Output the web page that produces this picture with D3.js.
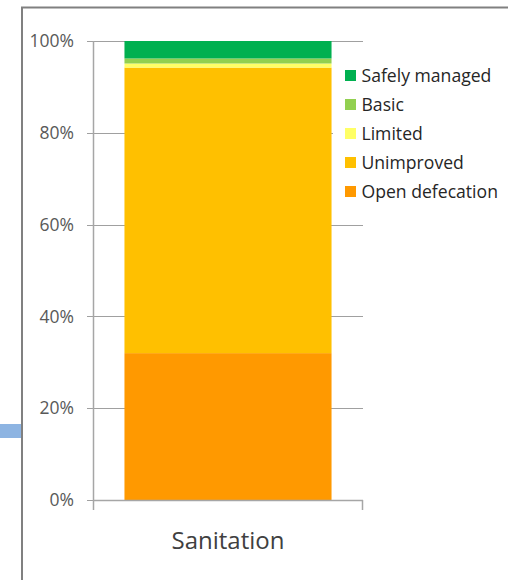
<!DOCTYPE html>
<html>
<head>
<meta charset="utf-8">
<script src="https://cdn.jsdelivr.net/npm/d3@7"></script>
<style>
  html, body { margin: 0; padding: 0; background: #fff; }
  svg { display: block; }
  text { font-family: "Open Sans", "Liberation Sans", sans-serif; }
</style>
</head>
<body>
<script>
// Sanitation service ladder, share of population (%)
const categories = ["Sanitation"];
const seriesNames = ["Open defecation", "Unimproved", "Limited", "Basic", "Safely managed"];
const seriesValues = [32.0, 62.2, 0.9, 1.1, 3.8];
const seriesColors = ["#FF9900", "#FFC000", "#FFFF66", "#92D050", "#00B050"];
const yTicks = [0, 20, 40, 60, 80, 100];

const W = 508, H = 580;
const svg = d3.select("body").append("svg").attr("width", W).attr("height", H);

// outer frame (left and top edges visible)
svg.append("rect").attr("x", 0).attr("y", 424).attr("width", 21).attr("height", 14).attr("fill", "#8DB4E2");
svg.append("line").attr("x1", 22).attr("x2", 22).attr("y1", 7).attr("y2", H)
  .attr("stroke", "#808080").attr("stroke-width", 2);
svg.append("line").attr("x1", 21).attr("x2", W).attr("y1", 7.5).attr("y2", 7.5)
  .attr("stroke", "#808080").attr("stroke-width", 2);

const plot = { left: 93, right: 363, top: 41, bottom: 500 };

const x = d3.scaleBand().domain(categories).range([plot.left, plot.right]).paddingInner(0.23).paddingOuter(0.117);
const y = d3.scaleLinear().domain([0, 100]).range([plot.bottom, plot.top]);

// gridlines with small outward ticks
const grid = svg.append("g");
grid.selectAll("line").data(yTicks).join("line")
  .attr("x1", plot.left - 6).attr("x2", plot.right)
  .attr("y1", d => Math.round(y(d)) + 0.5).attr("y2", d => Math.round(y(d)) + 0.5)
  .attr("stroke", "#a0a0a0").attr("stroke-width", 1);

// stacked bar
const stackData = categories.map(c => {
  const o = { category: c };
  seriesNames.forEach((s, i) => { o[s] = seriesValues[i]; });
  return o;
});
const stacked = d3.stack().keys(seriesNames)(stackData);
svg.append("g").selectAll("g").data(stacked).join("g")
  .attr("fill", (d, i) => seriesColors[i])
  .selectAll("rect").data(d => d).join("rect")
  .attr("x", d => x(d.data.category))
  .attr("width", x.bandwidth())
  .attr("y", d => y(d[1]))
  .attr("height", d => y(d[0]) - y(d[1]));

// axes lines
svg.append("line").attr("x1", plot.left + 0.5).attr("x2", plot.left + 0.5)
  .attr("y1", plot.top).attr("y2", plot.bottom + 10)
  .attr("stroke", "#a6a6a6").attr("stroke-width", 1.5);
svg.append("line").attr("x1", plot.left).attr("x2", plot.right)
  .attr("y1", plot.bottom + 0.5).attr("y2", plot.bottom + 0.5)
  .attr("stroke", "#a6a6a6").attr("stroke-width", 1.5);
svg.append("line").attr("x1", plot.right - 0.5).attr("x2", plot.right - 0.5)
  .attr("y1", plot.bottom).attr("y2", plot.bottom + 10)
  .attr("stroke", "#a6a6a6").attr("stroke-width", 1.5);

// y tick labels
svg.append("g").selectAll("text").data(yTicks).join("text")
  .attr("x", 74).attr("y", d => y(d))
  .attr("dy", "0.35em")
  .attr("text-anchor", "end")
  .attr("font-size", 17.5)
  .attr("fill", "#595959")
  .text(d => d + "%");

// category label
svg.append("text")
  .attr("x", x(categories[0]) + x.bandwidth() / 2)
  .attr("y", 549)
  .attr("text-anchor", "middle")
  .attr("font-size", 24)
  .attr("fill", "#404040")
  .text(categories[0]);

// legend on a white panel, top entry is the top of the stack
svg.append("rect").attr("x", 333).attr("y", 58).attr("width", W - 333).attr("height", 148).attr("fill", "#fff");
const legendItems = seriesNames.map((s, i) => ({ name: s, color: seriesColors[i] })).reverse();
const lg = svg.append("g").selectAll("g").data(legendItems).join("g")
  .attr("transform", (d, i) => `translate(345, ${75.5 + i * 29})`);
lg.append("rect").attr("x", 0).attr("y", -5.5).attr("width", 11).attr("height", 11).attr("fill", d => d.color);
lg.append("text").attr("x", 16.5).attr("y", 0).attr("dy", "0.35em")
  .attr("font-size", 17.6).attr("fill", "#262626").text(d => d.name);
</script>
</body>
</html>
